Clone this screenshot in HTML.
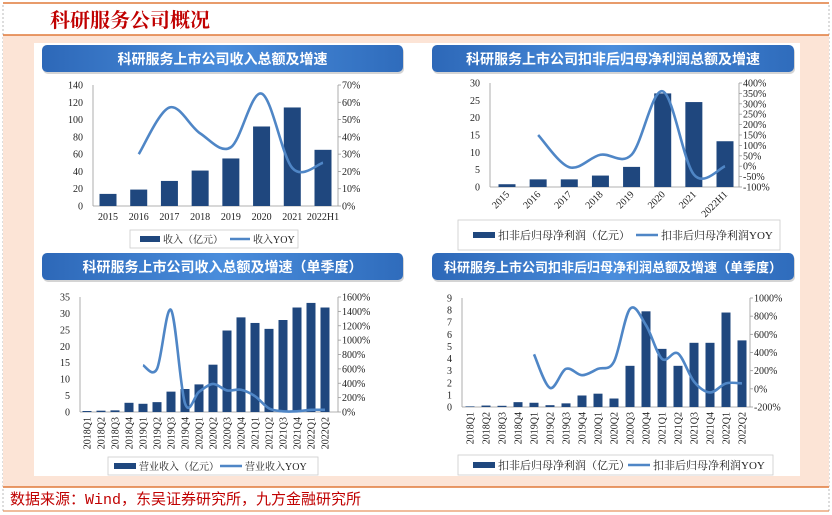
<!DOCTYPE html>
<html><head><meta charset="utf-8">
<style>
html,body{margin:0;padding:0;background:#fff;}
body{width:832px;height:515px;position:relative;overflow:hidden;font-family:"Liberation Serif","Noto Serif CJK SC",serif;}
svg{position:absolute;left:0;top:0;}
</style></head><body>
<svg id="s" width="832" height="515" viewBox="0 0 832 515">
<defs>
<linearGradient id="bg" x1="0" y1="0" x2="1" y2="0"><stop offset="0" stop-color="#2d68b8"/><stop offset="0.5" stop-color="#4a8ddc"/><stop offset="1" stop-color="#2f6cbc"/></linearGradient>
</defs>
<rect x="3" y="3" width="826" height="508" fill="#fff" stroke="#bbb" stroke-dasharray="2,2"/>
<line x1="3" y1="3" x2="829" y2="3" stroke="#e07a3a" stroke-width="1.5"/>
<text x="50" y="27" font-size="20" font-weight="bold" fill="#c00000" font-family="Liberation Serif,Noto Serif CJK SC,serif">科研服务公司概况</text>
<rect x="3" y="35" width="826" height="452" fill="#fce4d6"/>
<line x1="3" y1="35" x2="829" y2="35" stroke="#e07a3a" stroke-width="1.5"/>
<rect x="34" y="43" width="766" height="433" fill="#fff"/>
<line x1="3" y1="487" x2="829" y2="487" stroke="#e07a3a" stroke-width="1.5"/>
<line x1="3" y1="511" x2="829" y2="511" stroke="#e07a3a" stroke-width="1"/>
<text x="10" y="504" font-size="15" fill="#c00000" font-family="Liberation Mono,Noto Sans CJK SC,monospace">数据来源：Wind，东吴证券研究所，九方金融研究所</text>
</svg>
<script>
// Chart 1
const c1Cats=["2015","2016","2017","2018","2019","2020","2021","2022H1"];
const c1Bars=[14,19,29,41,55,92,114,65];
const c1Yoy=[null,30,57,42,34,65,22,25];
const c1LeftTicks=[0,20,40,60,80,100,120,140];
const c1RightTicks=[0,10,20,30,40,50,60,70];
// Chart 2
const c2Cats=["2015","2016","2017","2018","2019","2020","2021","2022H1"];
const c2Bars=[0.8,2.2,2.2,3.3,5.8,27,24.5,13.2];
const c2Yoy=[null,150,-5,55,55,360,-40,0];
const c2LeftTicks=[0,5,10,15,20,25,30];
const c2RightTicks=[-100,-50,0,50,100,150,200,250,300,350,400];
// Chart 3
const c3Cats=["2018Q1","2018Q2","2018Q3","2018Q4","2019Q1","2019Q2","2019Q3","2019Q4","2020Q1","2020Q2","2020Q3","2020Q4","2021Q1","2021Q2","2021Q3","2021Q4","2022Q1","2022Q2"];
const c3Bars=[0.3,0.4,0.5,2.8,2.5,3,6.2,7,8.4,14.4,24.8,28.8,27.1,25.3,28,31.8,33.2,31.8];
const c3Yoy=[null,null,null,null,650,600,1420,120,280,390,300,310,220,50,10,10,30,30];
const c3LeftTicks=[0,5,10,15,20,25,30,35];
const c3RightTicks=[0,200,400,600,800,1000,1200,1400,1600];
// Chart 4
const c4Cats=c3Cats.slice();
const c4Bars=[0.05,0.12,0.1,0.4,0.35,0.15,0.3,0.95,1.1,0.7,3.4,7.9,4.8,3.4,5.3,5.3,7.8,5.5];
const c4Yoy=[null,null,null,null,380,10,220,150,220,300,880,700,330,390,80,-40,60,60];
const c4LeftTicks=[0,1,2,3,4,5,6,7,8,9];
const c4RightTicks=[-200,0,200,400,600,800,1000];

const NS="http://www.w3.org/2000/svg";
const svg=document.getElementById('s');
function mk(tag,attrs,parent){const e=document.createElementNS(NS,tag);for(const k in attrs)e.setAttribute(k,attrs[k]);(parent||svg).appendChild(e);return e;}
function smooth(pts){let d="M"+pts[0][0]+","+pts[0][1];for(let i=0;i<pts.length-1;i++){const p0=pts[i-1]||pts[i],p1=pts[i],p2=pts[i+1],p3=pts[i+2]||p2;const c1x=p1[0]+(p2[0]-p0[0])/6,c1y=p1[1]+(p2[1]-p0[1])/6,c2x=p2[0]-(p3[0]-p1[0])/6,c2y=p2[1]-(p3[1]-p1[1])/6;d+=" C"+c1x+","+c1y+" "+c2x+","+c2y+" "+p2[0]+","+p2[1];}return d;}

function chart(o){
  const g=mk('g',{});
  
  
  mk('rect',{x:o.bx+1,y:o.by+2,width:o.bw,height:27,rx:5,fill:'#aaa',opacity:0.5},g);
  const b=mk('rect',{x:o.bx,y:o.by,width:o.bw,height:27,rx:5,fill:'url(#bg)'},g);
  
  
  const bt=mk('text',{x:o.bx+o.bw/2,y:o.by+19,'text-anchor':'middle','font-size':o.tfs||14,'font-weight':'bold',fill:'#fff','font-family':'Liberation Sans,Noto Sans CJK SC,sans-serif'},g);
  bt.textContent=o.title;
  
  
  const lMin=o.lt[0],lMax=o.lt[o.lt.length-1],rMin=o.rt[0],rMax=o.rt[o.rt.length-1];
  const yL=v=>o.y0-(v-lMin)/(lMax-lMin)*(o.y0-o.y1);
  const yR=v=>o.y0-(v-rMin)/(rMax-rMin)*(o.y0-o.y1);
  const n=o.cats.length;const step=(o.xLast-o.xFirst)/(n-1);
  const xC=i=>o.xFirst+i*step;
  mk('line',{x1:o.lx,y1:o.y1,x2:o.lx,y2:o.y0,stroke:'#999','stroke-width':0.8},g);
  mk('line',{x1:o.rx,y1:o.y1,x2:o.rx,y2:o.y0,stroke:'#999','stroke-width':0.8},g);
  mk('line',{x1:o.lx,y1:o.y0,x2:o.rx,y2:o.y0,stroke:'#999','stroke-width':0.8},g);
  o.lt.forEach(v=>{const t=mk('text',{x:o.lx-10,y:yL(v)+3.5,'text-anchor':'end','font-size':o.fs,fill:'#222'},g);t.textContent=v;});
  o.rt.forEach(v=>{mk('line',{x1:o.rx,y1:yR(v),x2:o.rx+3,y2:yR(v),stroke:'#999','stroke-width':0.8},g);const t=mk('text',{x:o.rx+4,y:yR(v)+3.5,'font-size':o.fs,fill:'#222'},g);t.textContent=v+'%';});
  o.bars.forEach((v,i)=>{const r=mk('rect',{x:xC(i)-o.bw2/2,y:yL(v),width:o.bw2,height:o.y0-yL(v),fill:'#1f477e'},g);});
  o.cats.forEach((c,i)=>{let t;
    if(o.rot===0){t=mk('text',{x:xC(i),y:o.y0+14,'text-anchor':'middle','font-size':o.fs,fill:'#222'},g);}
    else if(o.rot===45){t=mk('text',{x:xC(i)+3,y:o.y0+8,'text-anchor':'end','font-size':o.fs,fill:'#222',transform:`rotate(-45 ${xC(i)+3} ${o.y0+8})`},g);}
    else{t=mk('text',{x:xC(i)+3.5,y:o.y0+5,'text-anchor':'end','font-size':o.fs,fill:'#222',transform:`rotate(-90 ${xC(i)+3.5} ${o.y0+5})`},g);}
    t.textContent=c;});
  const pts=[];o.yoy.forEach((v,i)=>{if(v!==null)pts.push([xC(i),yR(v)]);});
  const p=mk('path',{d:smooth(pts),fill:'none',stroke:'#4f86c6','stroke-width':2.6},g);
  
  const L=o.leg;
  const lb=mk('rect',{x:L.x,y:L.y,width:L.w,height:L.h,fill:'#fff',stroke:'#ccc','stroke-width':0.8},g);
  
  const my=L.y+L.h/2;
  mk('rect',{x:L.x+L.s1,y:my-3,width:L.sw,height:6,fill:'#1f477e'},g);
  const t1=mk('text',{x:L.x+L.s1+L.sw+3,y:my+4,'font-size':L.fs||10,fill:'#222','font-family':'Liberation Serif,Noto Serif CJK SC,serif'},g);t1.textContent=L.t1;
  
  mk('line',{x1:L.x+L.s2,y1:my,x2:L.x+L.s2+L.sw,y2:my,stroke:'#4f86c6','stroke-width':2.6},g);
  const t2=mk('text',{x:L.x+L.s2+L.sw+3,y:my+4,'font-size':L.fs||10,fill:'#222','font-family':'Liberation Serif,Noto Serif CJK SC,serif'},g);t2.textContent=L.t2;
  
}
chart({name:'revenue-annual-chart',title:'科研服务上市公司收入总额及增速',bx:42,by:45,bw:361,cats:c1Cats,bars:c1Bars,yoy:c1Yoy,lt:c1LeftTicks,rt:c1RightTicks,
  lx:93,rx:338,y0:206,y1:85,xFirst:108,xLast:323,bw2:17,fs:10,rot:0,
  leg:{x:130,y:230,w:168,h:18,s1:10,sw:20,s2:100,t1:'收入（亿元）',t2:'收入YOY'}});
chart({name:'profit-annual-chart',title:'科研服务上市公司扣非后归母净利润总额及增速',bx:432,by:45,bw:362,cats:c2Cats,bars:c2Bars,yoy:c2Yoy,lt:c2LeftTicks,rt:c2RightTicks,
  lx:490,rx:739,y0:187,y1:83,xFirst:507,xLast:725,bw2:17,fs:10,rot:45,
  leg:{x:458,y:220,w:322,h:30,s1:15,sw:22,s2:178,fs:11,t1:'扣非后归母净利润（亿元）',t2:'扣非后归母净利润YOY'}});
chart({name:'revenue-quarterly-chart',title:'科研服务上市公司收入总额及增速（单季度）',bx:42,by:253,bw:361,cats:c3Cats,bars:c3Bars,yoy:c3Yoy,lt:c3LeftTicks,rt:c3RightTicks,
  lx:80,rx:338,y0:412,y1:297,xFirst:87,xLast:325,bw2:9,fs:10,rot:90,
  leg:{x:108,y:457,w:210,h:18,s1:6,sw:22,s2:112,t1:'营业收入（亿元）',t2:'营业收入YOY'}});
chart({name:'profit-quarterly-chart',title:'科研服务上市公司扣非后归母净利润总额及增速（单季度）',bx:432,by:253,bw:362,tfs:13,cats:c4Cats,bars:c4Bars,yoy:c4Yoy,lt:c4LeftTicks,rt:c4RightTicks,
  lx:462,rx:750,y0:407,y1:298,xFirst:470,xLast:742,bw2:9,fs:10,rot:90,
  leg:{x:458,y:455,w:315,h:20,s1:15,sw:22,s2:170,fs:11,t1:'扣非后归母净利润（亿元）',t2:'扣非后归母净利润YOY'}});
</script>
</body></html>
